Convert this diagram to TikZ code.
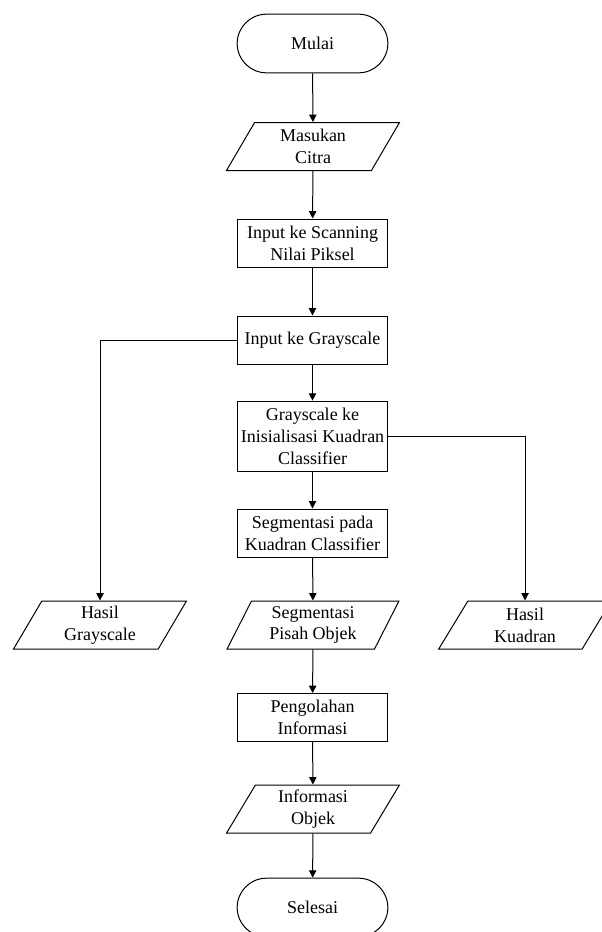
\documentclass[tikz,border=0pt]{standalone}
\usepackage{fontspec}
\setmainfont{Liberation Serif}
\usetikzlibrary{shapes.geometric, arrows.meta}

\tikzset{
	terminal/.style={draw, rounded corners=22pt, minimum width=113pt, minimum height=44pt, align=center},
	process/.style={draw, rectangle, minimum width=113pt, minimum height=36pt, inner sep=1pt, align=center},
	data/.style={draw, trapezium, trapezium left angle=66, trapezium right angle=114, trapezium stretches=true, minimum width=130pt, minimum height=36pt, inner sep=1pt, align=center},
	arrow/.style={-{Triangle[width=5.5pt, length=5.5pt]}},
	every node/.style={font=\rmfamily\fontsize{13.5}{16.3}\selectfont}
}

\begin{document}
\begin{tikzpicture}[x=0.75pt, y=-0.75pt, line width=0.75pt]
		\useasboundingbox (0,0) rectangle (601,932);
		
		\node[terminal] (mulai) at (312.5, 43.5) {Mulai};
		\node[data] (masukan) at (313, 146.5) {Masukan\\Citra};
		\node[process] (scan) at (312.5, 243) {Input ke Scanning\\Nilai Piksel};
		\node[process] (gray) at (312.5, 340) {Input ke Grayscale};
		\node[process, minimum height=53pt] (inisial) at (312.5, 436.5) {Grayscale ke\\Inisialisasi Kuadran\\Classifier};
		\node[process] (segpada) at (312.5, 533) {Segmentasi pada\\Kuadran Classifier};
		
		\node[data] (hasilgray) at (100, 625) {Hasil\\Grayscale};
		\node[data] (segpisah) at (313, 625) {Segmentasi\\Pisah Objek};
		\node[data] (hasilkuad) at (525, 625) {Hasil\\Kuadran};
		
		\node[process] (olah) at (312.5, 717.5) {Pengolahan\\Informasi};
		\node[data] (info) at (313, 809) {Informasi\\Objek};
		\node[terminal] (selesai) at (312.5, 907.5) {Selesai};
		
		\draw[arrow] (mulai) -- (masukan);
		\draw[arrow] (masukan) -- (scan);
		\draw[arrow] (scan) -- (gray);
		\draw[arrow] (gray) -- (inisial);
		\draw[arrow] (inisial) -- (segpada);
		\draw[arrow] (segpada) -- (segpisah);
		\draw[arrow] (segpisah) -- (olah);
		\draw[arrow] (olah) -- (info);
		\draw[arrow] (info) -- (selesai);
		\draw[arrow] (gray.west) -| (hasilgray.north);
		\draw[arrow] (inisial.east) -| (hasilkuad.north);
	\end{tikzpicture}
\end{document}
